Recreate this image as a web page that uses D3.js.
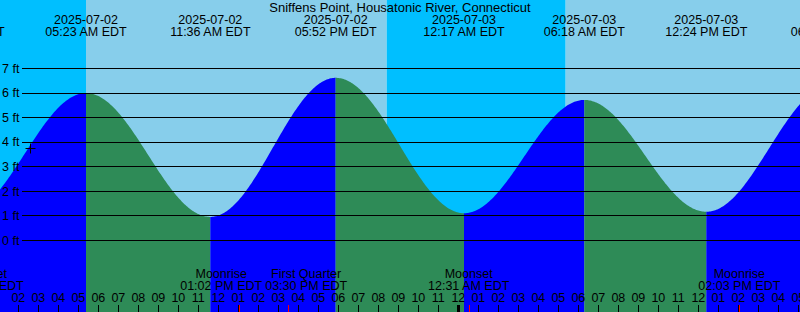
<!doctype html>
<html>
<head>
<script src="https://cdnjs.cloudflare.com/ajax/libs/d3/7.8.5/d3.min.js"></script>
<style>
  body { margin: 0; background: #fff; }
  svg { display: block; font-family: "Liberation Sans", Arial, sans-serif; font-size: 12.5px; }
  .title { font-size: 13px; }
</style>
</head>
<body>
<script>
var title = "Sniffens Point, Housatonic River, Connecticut";

// tide highs and lows (local time, feet)
var tideTimes = ["2025-07-01 23:17", "2025-07-02 05:23", "2025-07-02 11:36", "2025-07-02 17:52",
                 "2025-07-03 00:17", "2025-07-03 06:18", "2025-07-03 12:24", "2025-07-03 18:40"];
var tideHeights = [1.08, 5.98, 0.94, 6.6, 1.09, 5.7, 1.15, 6.3];

// sunrise / sunset
var sunTimes = ["2025-07-02 05:23", "2025-07-02 20:25", "2025-07-03 05:22", "2025-07-03 20:25"];
var sunKinds = ["rise", "set", "rise", "set"];

// moon events
var moonTimes = ["2025-07-02 00:14", "2025-07-02 13:02", "2025-07-02 15:30", "2025-07-03 00:31", "2025-07-03 14:03"];
var moonNames = ["Moonset", "Moonrise", "First Quarter", "Moonset", "Moonrise"];

var heightTicks = [0, 1, 2, 3, 4, 5, 6, 7];
var nowTime = "2025-07-02 02:35";
var nowHeight = 3.75;

var width = 800, height = 312;
var parse = d3.timeParse("%Y-%m-%d %H:%M");
var fmtDate = d3.timeFormat("%Y-%m-%d");
var fmtTime = d3.timeFormat("%I:%M %p EDT");

var tides = tideTimes.map(function(t, i) { return {t: parse(t), h: tideHeights[i]}; });

var x = d3.scaleTime()
    .domain([parse("2025-07-02 01:05"), parse("2025-07-03 17:05")])
    .range([0, width]);
var y = d3.scaleLinear().domain([0, 7]).range([240, 68]);

var svg = d3.select("body").append("svg")
    .attr("width", width)
    .attr("height", height);

// sky: day / night bands
var dom = x.domain();
var edges = [dom[0]].concat(sunTimes.map(parse)).concat([dom[1]]);
var bands = [];
for (var i = 0; i < edges.length - 1; i++) {
    var night = i == 0 ? sunKinds[0] == "rise" : sunKinds[i - 1] == "set";
    bands.push({a: edges[i], b: edges[i + 1], night: night});
}
svg.selectAll("rect.sky").data(bands).enter().append("rect")
    .attr("class", "sky")
    .attr("x", function(d) { return x(d.a); })
    .attr("width", function(d) { return Math.max(0, x(d.b) - x(d.a)); })
    .attr("y", 0)
    .attr("height", height)
    .style("fill", function(d) { return d.night ? "#00bfff" : "#87ceeb"; });

// water: cosine shape between each pair of extremes
function segment(p, q) {
    var pts = [];
    var x0 = x(p.t), x1 = x(q.t);
    var n = Math.ceil(x1 - x0);
    for (var k = 0; k <= n; k++) {
        var f = k / n;
        pts.push({x: x0 + (x1 - x0) * f, h: p.h + (q.h - p.h) * (1 - Math.cos(Math.PI * f)) / 2});
    }
    return pts;
}
var area = d3.area()
    .x(function(d) { return d.x; })
    .y0(height)
    .y1(function(d) { return y(d.h); });

for (var i = 0; i < tides.length - 1; i++) {
    var rising = tides[i + 1].h > tides[i].h;
    svg.append("path")
        .attr("d", area(segment(tides[i], tides[i + 1])))
        .style("fill", rising ? "#0000ff" : "#2e8b57");
}

// height grid
svg.selectAll("line.grid").data(heightTicks).enter().append("line")
    .attr("x1", 22).attr("x2", width)
    .attr("y1", function(d) { return Math.round(y(d)) + 0.5; })
    .attr("y2", function(d) { return Math.round(y(d)) + 0.5; })
    .style("stroke", "#000");
svg.selectAll("text.ylab").data(heightTicks).enter().append("text")
    .attr("x", 2)
    .attr("y", function(d) { return y(d); })
    .attr("dy", "0.38em")
    .text(function(d) { return d + " ft"; });

// current time marker
var cx = Math.round(x(parse(nowTime))) + 0.5, cy = Math.round(y(nowHeight)) + 0.5;
svg.append("path")
    .attr("d", "M" + (cx - 5) + "," + cy + "H" + (cx + 5) + "M" + cx + "," + (cy - 5) + "V" + (cy + 5))
    .style("stroke", "#000");

// header
svg.append("text").attr("class", "title").attr("x", width / 2).attr("y", 12)
    .attr("text-anchor", "middle").text(title);
var tl = svg.selectAll("g.tide").data(tides).enter().append("g")
    .attr("transform", function(d) { return "translate(" + x(d.t) + ",0)"; })
    .attr("text-anchor", "middle");
tl.append("text").attr("y", 24).text(function(d) { return fmtDate(d.t); });
tl.append("text").attr("y", 36).text(function(d) { return fmtTime(d.t); });

// hour axis
var hours = x.ticks(d3.timeHour.every(1));
svg.selectAll("text.hr").data(hours).enter().append("text")
    .attr("x", function(d) { return x(d); })
    .attr("y", 302)
    .attr("text-anchor", "middle")
    .text(d3.timeFormat("%I"));
svg.selectAll("line.hr").data(hours).enter().append("line")
    .attr("x1", function(d) { return Math.round(x(d)) + 0.5; })
    .attr("x2", function(d) { return Math.round(x(d)) + 0.5; })
    .attr("y1", 305).attr("y2", height)
    .style("stroke", "#000")
    .style("stroke-width", function(d) { return d.getHours() == 0 ? 3 : 1; });

// moon events
var moon = moonTimes.map(function(t, i) { return {t: parse(t), name: moonNames[i]}; });
svg.selectAll("line.moon").data(moon).enter().append("line")
    .attr("x1", function(d) { return Math.round(x(d.t)) + 0.5; })
    .attr("x2", function(d) { return Math.round(x(d.t)) + 0.5; })
    .attr("y1", 305).attr("y2", height)
    .style("stroke", "#ff0000");
var ml = svg.selectAll("g.moon").data(moon).enter().append("g")
    .attr("text-anchor", "middle");
ml.append("text").attr("y", 278).text(function(d) { return d.name; });
ml.append("text").attr("y", 290).text(function(d) { return fmtTime(d.t); });

// push apart labels that would overlap
ml.each(function(d) {
    var w = 0;
    d3.select(this).selectAll("text").each(function() { w = Math.max(w, this.getComputedTextLength()); });
    d.w = w;
    d.lx = x(d.t);
});
for (var i = 0; i < moon.length - 1; i++) {
    var a = moon[i], b = moon[i + 1];
    var need = (a.w + b.w) / 2 + 3 - (b.lx - a.lx);
    if (need > 0) { a.lx -= need / 2; b.lx += need / 2; }
}
ml.attr("transform", function(d) { return "translate(" + d.lx + ",0)"; });
</script>
</body>
</html>
